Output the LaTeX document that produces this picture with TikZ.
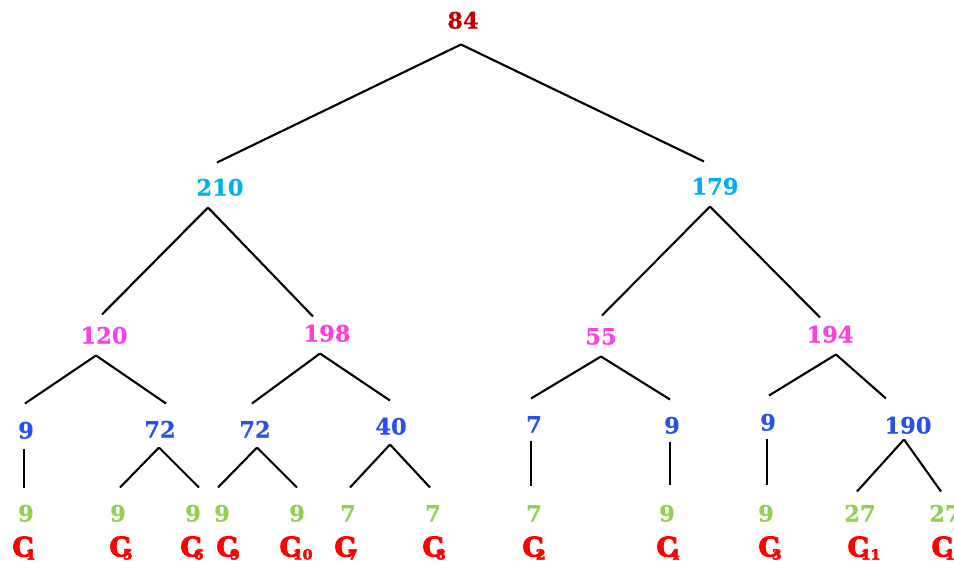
\documentclass[tikz,border=0pt]{standalone}
\usepackage{fontspec}
\newfontfamily\numfont[FakeBold=0.6]{DejaVu Serif Bold}
\newfontfamily\blobfont[FakeBold=3.5]{DejaVu Serif Bold}
\definecolor{cA}{HTML}{C00000}
\definecolor{cB}{HTML}{00B0F0}
\definecolor{cC}{HTML}{FF40E0}
\definecolor{cD}{HTML}{2850F0}
\definecolor{cE}{HTML}{92D050}
\definecolor{cR}{HTML}{FF0000}
\newcommand{\clab}[1]{\blobfont\fontsize{27}{27}\selectfont C\kern-8pt\raisebox{-3pt}{\fontsize{14}{14}\selectfont #1}}
\begin{document}
\begin{tikzpicture}[x=1pt,y=-1pt,
  num/.style={inner sep=0pt,outer ysep=12pt,font=\numfont\fontsize{22.5}{22.5}\selectfont,text height=17pt,text depth=0pt},
  lA/.style={num,text=cA}, lB/.style={num,text=cB}, lC/.style={num,text=cC},
  lD/.style={num,text=cD}, lE/.style={num,text=cE},
  cl/.style={inner sep=0pt,text=cR},
  br/.style={line width=2.1pt,black}]
\useasboundingbox (0,0) rectangle (954,563);
% level 1
\node[lA] (r) at (463,20) {84};
% level 2
\node[lB] (a) at (220,187) {210};
\node[lB] (b) at (715,186) {179};
% level 3
\node[lC] (a1) at (104,335) {120};
\node[lC] (a2) at (327,333) {198};
\node[lC] (b1) at (601,336) {55};
\node[lC] (b2) at (830,334) {194};
% level 4
\node[lD] (d1) at (26,430) {9};
\node[lD] (d2) at (160,429) {72};
\node[lD] (d3) at (255,429) {72};
\node[lD] (d4) at (391,426) {40};
\node[lD] (d5) at (534,424) {7};
\node[lD] (d6) at (672,425) {9};
\node[lD] (d7) at (768,422) {9};
\node[lD] (d8) at (908,425) {190};
% level 5
\node[lE] (e1) at (26,513) {9};
\node[lE] (e2) at (118,513) {9};
\node[lE] (e3) at (193,513) {9};
\node[lE] (e4) at (222,513) {9};
\node[lE] (e5) at (297,513) {9};
\node[lE] (e6) at (348,513) {7};
\node[lE] (e7) at (433,513) {7};
\node[lE] (e8) at (534,513) {7};
\node[lE] (e9) at (667,513) {9};
\node[lE] (e10) at (766,513) {9};
\node[lE] (e11) at (860,513) {27};
\node[lE] (e12) at (945,513) {27};
% leaf labels
\node[cl] (c1) at (24,548) {\clab{1}};
\node[cl] (c2) at (121,548) {\clab{5}};
\node[cl] (c3) at (192,548) {\clab{6}};
\node[cl] (c4) at (228,548) {\clab{9}};
\node[cl] (c5) at (296,548) {\clab{10}};
\node[cl] (c6) at (346,548) {\clab{7}};
\node[cl] (c7) at (434,548) {\clab{8}};
\node[cl] (c8) at (534,548) {\clab{2}};
\node[cl] (c9) at (668,548) {\clab{4}};
\node[cl] (c10) at (770,548) {\clab{3}};
\node[cl] (c11) at (864,548) {\clab{11}};
\node[cl] (c12) at (948,548) {\clab{12}};
% branches
\draw[br] ([xshift=-2pt,yshift=-4pt]r.south) -- ([xshift=-3pt,yshift=4pt]a.north);
\draw[br] ([xshift=-2pt,yshift=-4pt]r.south) -- ([xshift=-11pt,yshift=4pt]b.north);
\draw[br] ([xshift=-12pt]a.south) -- ([xshift=-2pt]a1.north);
\draw[br] ([xshift=-12pt]a.south) -- ([xshift=-14pt,yshift=-4pt]a2.north);
\draw[br] ([xshift=-5pt]b.south) -- ([xshift=1pt]b1.north);
\draw[br] ([xshift=-5pt]b.south) -- ([xshift=-10pt,yshift=-4pt]b2.north);
\draw[br] ([xshift=-8pt]a1.south) -- ([xshift=-1pt,yshift=6pt]d1.north);
\draw[br] ([xshift=-8pt]a1.south) -- ([xshift=6pt,yshift=5pt]d2.north);
\draw[br] ([xshift=-7pt]a2.south) -- ([xshift=-3pt,yshift=5pt]d3.north);
\draw[br] ([xshift=-7pt]a2.south) -- ([xshift=-1pt,yshift=5pt]d4.north);
\draw[br] (b1.south) -- ([xshift=-3pt,yshift=5pt]d5.north);
\draw[br] (b1.south) -- ([xshift=-2pt,yshift=5pt]d6.north);
\draw[br] ([xshift=6pt]b2.south) -- ([xshift=1pt,yshift=6pt]d7.north);
\draw[br] ([xshift=6pt]b2.south) -- ([xshift=-22pt,yshift=6pt]d8.north);
\draw[br] ([xshift=-2pt,yshift=2pt]d1.south) -- ([xshift=-2pt,yshift=5pt]e1.north);
\draw[br] ([xshift=-1pt,yshift=2pt]d2.south) -- ([xshift=2pt,yshift=5pt]e2.north);
\draw[br] ([xshift=-1pt,yshift=2pt]d2.south) -- ([xshift=6pt,yshift=5pt]e3.north);
\draw[br] ([xshift=2pt,yshift=2pt]d3.south) -- ([xshift=-4pt,yshift=5pt]e4.north);
\draw[br] ([xshift=2pt,yshift=2pt]d3.south) -- ([yshift=5pt]e5.north);
\draw[br] ([xshift=-1pt,yshift=2pt]d4.south) -- ([xshift=2pt,yshift=5pt]e6.north);
\draw[br] ([xshift=-1pt,yshift=2pt]d4.south) -- ([xshift=-3pt,yshift=5pt]e7.north);
\draw[br] ([xshift=-3pt,yshift=4pt]d5.south) -- ([xshift=-3pt,yshift=7pt]e8.north);
\draw[br] ([xshift=-2pt,yshift=4pt]d6.south) -- ([xshift=3pt,yshift=8pt]e9.north);
\draw[br] ([xshift=-1pt,yshift=4pt]d7.south) -- ([xshift=1pt,yshift=8pt]e10.north);
\draw[br] ([xshift=-4pt,yshift=6pt]d8.south) -- ([xshift=-3pt,yshift=1pt]e11.north);
\draw[br] ([xshift=-4pt,yshift=6pt]d8.south) -- ([xshift=-4pt,yshift=1pt]e12.north);
\end{tikzpicture}
\end{document}
